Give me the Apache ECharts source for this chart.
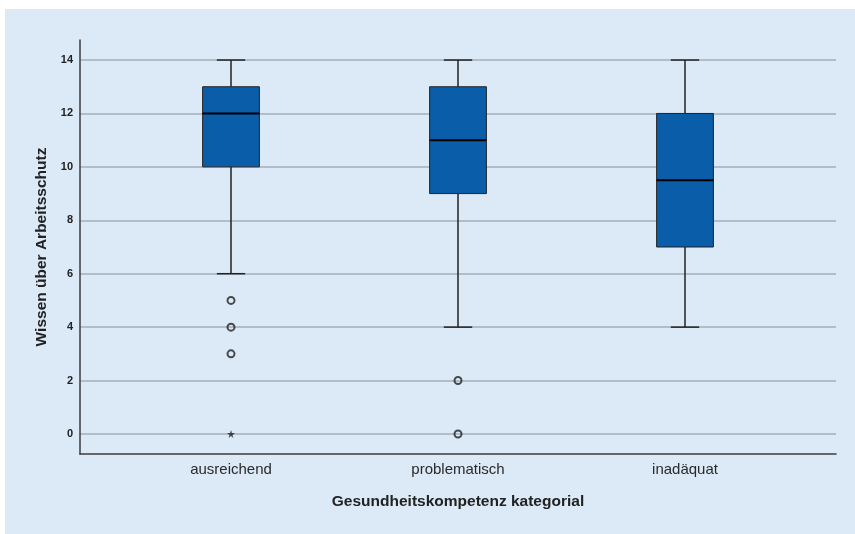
<!DOCTYPE html>
<html>
<head>
<meta charset="utf-8">
<script src="https://cdn.jsdelivr.net/npm/echarts@6/dist/echarts.min.js"></script>
<style>
html,body{margin:0;padding:0;background:#ffffff;}
#c{position:absolute;left:0;top:0;width:855px;height:534px;}
</style>
</head>
<body>
<div id="c"></div>
<script>
const categories = ['ausreichend', 'problematisch', 'inadäquat'];
const whiskerLow = [6, 4, 4];
const q1 = [10, 9, 7];
const median = [12, 11, 9.5];
const q3 = [13, 13, 12];
const whiskerHigh = [14, 14, 14];
// outliers: [categoryIndex, value]
const outliers = [[0, 5], [0, 4], [0, 3], [1, 2], [1, 0]];
const extremes = [[0, 0]];
const yTicks = [0, 2, 4, 6, 8, 10, 12, 14];

const boxData = categories.map((c, i) => [i, whiskerLow[i], q1[i], median[i], q3[i], whiskerHigh[i]]);

const chart = echarts.init(document.getElementById('c'), null, {renderer: 'canvas'});
const FONT = '"Liberation Sans", Arial, sans-serif';
const starPath = 'path://M50,0 L61,35 L98,35 L68,57 L79,91 L50,70 L21,91 L32,57 L2,35 L39,35 Z';

chart.setOption({
  backgroundColor: '#ffffff',
  animation: false,
  graphic: [{
    type: 'rect', z: -10, silent: true,
    shape: {x: 5, y: 9, width: 850, height: 525},
    style: {fill: '#dce9f7'}
  }],
  grid: [
    {left: 80, right: 19, top: 40, bottom: 80},
    {left: 80, right: 19, top: 60, bottom: 100},
    {left: 117.5, width: 681, top: 40, bottom: 80}
  ],
  xAxis: [
    {gridIndex: 0, type: 'value', min: 0, max: 1,
     axisLine: {show: true, onZero: false, lineStyle: {color: '#3c3c3c', width: 1.5}},
     axisTick: {show: false}, axisLabel: {show: false}, splitLine: {show: false},
     name: 'Gesundheitskompetenz kategorial', nameLocation: 'middle', nameGap: 40,
     nameTextStyle: {fontFamily: FONT, fontSize: 15.5, fontWeight: 'bold', color: '#222'}},
    {gridIndex: 1, type: 'value', min: 0, max: 1, show: false},
    {gridIndex: 2, type: 'category', data: categories, boundaryGap: true,
     axisLine: {show: false}, axisTick: {show: false}, splitLine: {show: false},
     axisLabel: {fontFamily: FONT, fontSize: 15, color: '#2a2a2a', margin: 8}}
  ],
  yAxis: [
    {gridIndex: 0, type: 'value', min: -0.75, max: 14.75,
     axisLine: {show: true, onZero: false, lineStyle: {color: '#3c3c3c', width: 1.5}},
     axisTick: {show: false}, axisLabel: {show: false}, splitLine: {show: false},
     name: 'Wissen über Arbeitsschutz', nameLocation: 'middle', nameGap: 30, nameRotate: 90,
     nameTextStyle: {fontFamily: FONT, fontSize: 15.5, fontWeight: 'bold', color: '#222'}},
    {gridIndex: 1, type: 'value', min: yTicks[0], max: yTicks[yTicks.length - 1], interval: 2,
     axisLine: {show: false}, axisTick: {show: false},
     axisLabel: {fontFamily: FONT, fontSize: 11, fontWeight: 'bold', color: '#222', margin: 7},
     splitLine: {show: true, lineStyle: {color: '#a3aeba', width: 1.5}}},
    {gridIndex: 2, type: 'value', min: -0.75, max: 14.75, show: false}
  ],
  series: [
    {
      type: 'custom', xAxisIndex: 2, yAxisIndex: 2, z: 5,
      data: boxData,
      renderItem: function (params, api) {
        const idx = api.value(0);
        const lo = api.coord([idx, api.value(1)]);
        const p1 = api.coord([idx, api.value(2)]);
        const pm = api.coord([idx, api.value(3)]);
        const p3 = api.coord([idx, api.value(4)]);
        const hi = api.coord([idx, api.value(5)]);
        const band = api.size([1, 0])[0];
        const bw = band * 0.25;
        const cap = bw * 0.5;
        const x = pm[0];
        const lineStyle = {stroke: '#222', lineWidth: 1.5, fill: null};
        return {
          type: 'group',
          children: [
            {type: 'line', shape: {x1: x, y1: lo[1], x2: x, y2: p1[1]}, style: lineStyle},
            {type: 'line', shape: {x1: x, y1: p3[1], x2: x, y2: hi[1]}, style: lineStyle},
            {type: 'line', shape: {x1: x - cap / 2, y1: lo[1], x2: x + cap / 2, y2: lo[1]}, style: lineStyle},
            {type: 'line', shape: {x1: x - cap / 2, y1: hi[1], x2: x + cap / 2, y2: hi[1]}, style: lineStyle},
            {type: 'rect', shape: {x: x - bw / 2, y: p3[1], width: bw, height: p1[1] - p3[1]},
             style: {fill: '#0a5da8', stroke: '#222', lineWidth: 1}},
            {type: 'line', shape: {x1: x - bw / 2, y1: pm[1], x2: x + bw / 2, y2: pm[1]},
             style: {stroke: '#000', lineWidth: 2}}
          ]
        };
      }
    },
    {
      type: 'scatter', xAxisIndex: 2, yAxisIndex: 2, z: 6, clip: false,
      data: outliers,
      symbol: 'circle', symbolSize: 7,
      itemStyle: {color: 'rgba(0,0,0,0)', borderColor: '#222', borderWidth: 2}
    },
    {
      type: 'scatter', xAxisIndex: 2, yAxisIndex: 2, z: 6, clip: false,
      data: extremes,
      symbol: starPath, symbolSize: 8,
      itemStyle: {color: '#222'}
    }
  ]
});
</script>
</body>
</html>
